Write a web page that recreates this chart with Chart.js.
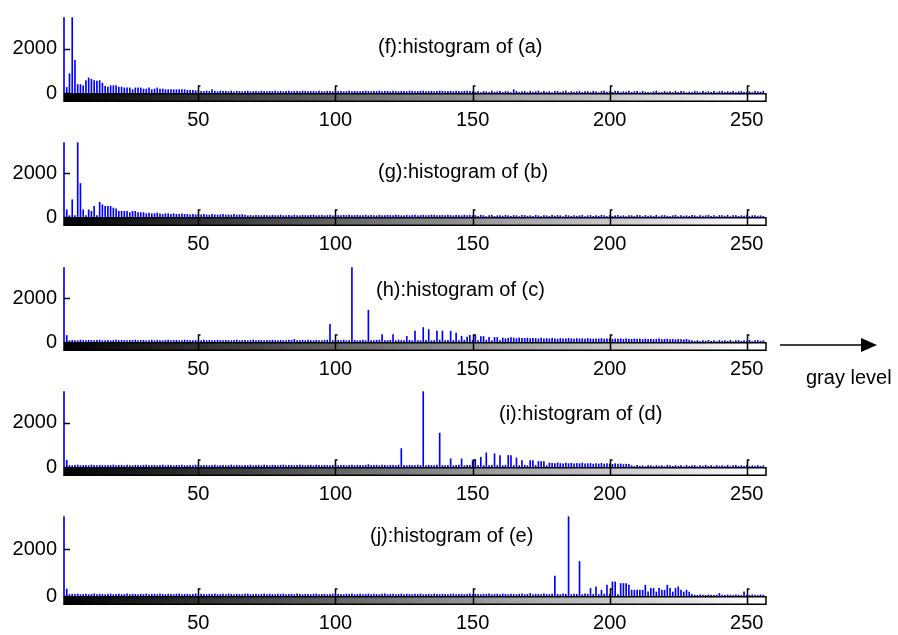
<!DOCTYPE html>
<html>
<head>
<meta charset="utf-8">
<script src="https://cdn.jsdelivr.net/npm/chart.js@4.4.1/dist/chart.umd.min.js"></script>
<style>
  body { margin: 0; background: #fff; width: 898px; height: 635px; overflow: hidden; position: relative; font-family: "Liberation Sans", Arial, sans-serif; }
  canvas { position: absolute; left: 0; }
  .title { position: absolute; font-size: 20px; line-height: 20px; color: #000; white-space: nowrap; }
  svg { position: absolute; }
</style>
</head>
<body>
<script>
// Data: gray levels 1..256 and the counts
const grayLevels = Array.from({ length: 256 }, (_, i) => i + 1);
const xTickValues = [50, 100, 150, 200, 250];
const yTickValues = [0, 2000];
const yMax = 3430;

const titles = ['(f):histogram of (a)', '(g):histogram of (b)', '(h):histogram of (c)', '(i):histogram of (d)', '(j):histogram of (e)'];

const countsA = [
  3400, 250, 870, 3400, 1480, 380, 380, 330, 560, 680, 620, 560, 540, 560, 450, 300,
  270, 330, 330, 330, 270, 270, 230, 230, 230, 150, 230, 230, 230, 180, 180, 230,
  150, 180, 230, 180, 180, 150, 150, 150, 150, 150, 150, 150, 150, 120, 120, 120,
  100, 110, 80, 60, 90, 70, 150, 80, 60, 90, 70, 80, 60, 90, 50, 80,
  70, 60, 80, 90, 60, 70, 80, 60, 90, 70, 60, 80, 70, 90, 60, 80,
  60, 70, 90, 60, 80, 70, 60, 90, 80, 60, 70, 80, 60, 90, 70, 60,
  80, 70, 60, 90, 70, 80, 60, 70, 90, 60, 80, 70, 60, 80, 90, 70,
  60, 80, 70, 90, 60, 70, 80, 60, 90, 70, 60, 80, 70, 60, 90, 80,
  60, 70, 80, 90, 60, 70, 80, 60, 70, 90, 80, 60, 70, 80, 60, 90,
  70, 60, 80, 90, 70, 60, 30, 80, 20, 70, 60, 30, 90, 40, 60, 80,
  30, 70, 60, 20, 150, 80, 30, 60, 70, 20, 80, 40, 60, 90, 30, 70,
  40, 60, 20, 80, 70, 30, 60, 90, 20, 70, 40, 60, 80, 30, 60, 70,
  30, 80, 60, 20, 70, 90, 40, 60, 30, 80, 70, 20, 60, 40, 90, 30,
  60, 70, 20, 80, 40, 30, 20, 60, 90, 20, 30, 70, 40, 60, 20, 80,
  30, 70, 60, 20, 40, 30, 80, 60, 20, 70, 40, 60, 30, 80, 20, 60,
  70, 30, 60, 40, 80, 20, 60, 70, 30, 40, 60, 20, 70, 60, 40, 80
];

const countsB = [
  3400, 330, 60, 790, 60, 3400, 1530, 330, 60, 330, 260, 490, 60, 670, 560, 490,
  490, 490, 410, 370, 260, 260, 260, 260, 200, 260, 260, 200, 200, 200, 150, 180,
  150, 150, 180, 150, 120, 150, 150, 120, 150, 120, 120, 150, 120, 120, 100, 120,
  100, 120, 100, 120, 100, 90, 120, 100, 90, 100, 120, 90, 100, 90, 120, 90,
  100, 110, 90, 60, 70, 60, 80, 70, 60, 80, 70, 60, 80, 70, 60, 90,
  60, 70, 80, 60, 90, 70, 60, 80, 70, 60, 80, 90, 60, 70, 80, 60,
  70, 90, 60, 80, 70, 60, 80, 70, 90, 60, 70, 80, 60, 70, 90, 60,
  80, 70, 60, 90, 70, 60, 80, 70, 60, 90, 80, 60, 70, 80, 60, 70,
  90, 60, 70, 80, 60, 70, 90, 80, 60, 70, 80, 60, 90, 70, 60, 80,
  70, 60, 90, 70, 80, 60, 70, 30, 80, 60, 20, 70, 80, 30, 60, 70,
  40, 80, 60, 30, 70, 60, 20, 80, 70, 40, 60, 30, 80, 60, 20, 70,
  60, 30, 80, 40, 70, 60, 20, 80, 60, 30, 70, 40, 60, 80, 20, 60,
  70, 30, 60, 40, 80, 60, 20, 70, 30, 60, 80, 40, 60, 20, 70, 60,
  30, 80, 60, 20, 70, 40, 60, 30, 80, 20, 60, 70, 40, 30, 60, 80,
  20, 70, 40, 60, 30, 80, 60, 20, 70, 40, 60, 80, 30, 60, 20, 70,
  60, 40, 80, 20, 60, 70, 30, 60, 40, 80, 20, 60, 70, 40, 60, 30
];

const countsC = [
  3400, 300, 60, 80, 70, 60, 90, 70, 60, 80, 70, 60, 80, 90, 60, 70,
  80, 60, 70, 90, 60, 80, 70, 60, 80, 70, 90, 60, 70, 80, 60, 70,
  90, 60, 80, 70, 60, 80, 90, 60, 70, 80, 60, 70, 90, 80, 60, 70,
  80, 60, 70, 90, 60, 80, 70, 60, 90, 70, 60, 80, 70, 60, 80, 90,
  60, 70, 80, 60, 70, 90, 60, 80, 70, 60, 80, 70, 90, 60, 70, 80,
  60, 70, 90, 80, 120, 60, 70, 80, 60, 90, 70, 60, 80, 70, 60, 80,
  90, 810, 70, 60, 80, 70, 90, 60, 70, 3400, 80, 60, 70, 90, 60, 1450,
  70, 60, 80, 90, 340, 60, 70, 80, 340, 60, 90, 70, 60, 260, 80, 60,
  500, 70, 60, 660, 80, 570, 60, 70, 500, 90, 500, 60, 80, 500, 70, 410,
  60, 260, 80, 230, 300, 70, 330, 60, 250, 250, 80, 210, 60, 210, 210, 70,
  180, 150, 170, 200, 180, 150, 190, 170, 160, 180, 150, 170, 160, 140, 180, 150,
  160, 140, 170, 150, 130, 160, 150, 140, 170, 150, 130, 160, 140, 150, 130, 160,
  140, 130, 150, 140, 160, 130, 140, 150, 120, 140, 130, 150, 120, 140, 130, 120,
  140, 120, 130, 110, 140, 120, 130, 110, 120, 140, 110, 120, 130, 110, 120, 100,
  120, 110, 100, 120, 90, 60, 30, 70, 20, 60, 40, 80, 30, 60, 20, 70,
  40, 60, 30, 80, 20, 60, 70, 30, 60, 40, 80, 20, 60, 70, 40, 60
];

const countsD = [
  3400, 300, 70, 60, 80, 90, 60, 70, 80, 60, 90, 70, 60, 80, 70, 60,
  80, 70, 90, 60, 70, 80, 60, 90, 70, 60, 80, 70, 60, 80, 90, 60,
  70, 80, 60, 70, 90, 60, 80, 70, 60, 80, 70, 90, 60, 70, 80, 60,
  90, 70, 60, 80, 70, 60, 80, 90, 60, 70, 80, 60, 70, 90, 60, 80,
  70, 60, 80, 70, 90, 60, 70, 80, 60, 90, 70, 60, 80, 70, 60, 80,
  90, 60, 70, 80, 60, 70, 90, 80, 60, 70, 80, 60, 90, 70, 60, 80,
  70, 60, 80, 90, 60, 70, 80, 60, 70, 90, 60, 80, 70, 60, 80, 110,
  60, 70, 80, 60, 90, 70, 60, 80, 70, 60, 90, 830, 70, 60, 80, 70,
  60, 90, 70, 3400, 60, 80, 70, 60, 90, 1530, 70, 60, 80, 370, 60, 70,
  90, 370, 60, 80, 70, 290, 330, 60, 440, 70, 640, 60, 80, 600, 70, 520,
  60, 80, 520, 520, 70, 410, 60, 290, 80, 60, 290, 290, 70, 250, 250, 250,
  60, 180, 170, 150, 190, 160, 140, 180, 150, 170, 140, 160, 150, 180, 140, 150,
  160, 130, 150, 140, 170, 130, 150, 140, 120, 150, 130, 140, 110, 130, 120, 60,
  30, 70, 40, 60, 20, 80, 60, 30, 70, 40, 60, 20, 80, 60, 30, 70,
  40, 60, 20, 80, 30, 60, 70, 20, 60, 40, 80, 30, 60, 20, 70, 40,
  60, 30, 80, 20, 60, 70, 40, 60, 30, 80, 20, 60, 40, 70, 30, 60
];

const countsE = [
  3400, 300, 60, 80, 70, 90, 60, 70, 80, 60, 70, 90, 60, 80, 70, 60,
  80, 90, 60, 70, 80, 60, 70, 90, 60, 80, 70, 60, 80, 70, 90, 60,
  70, 80, 60, 90, 70, 60, 80, 70, 60, 80, 90, 60, 70, 80, 60, 70,
  90, 60, 80, 70, 60, 80, 70, 90, 60, 70, 80, 60, 90, 70, 60, 80,
  70, 60, 80, 90, 60, 70, 80, 60, 70, 90, 60, 80, 70, 60, 80, 70,
  90, 60, 70, 80, 60, 90, 70, 60, 80, 70, 60, 80, 90, 60, 70, 80,
  60, 70, 90, 60, 80, 70, 60, 80, 70, 90, 60, 70, 80, 60, 70, 90,
  60, 80, 70, 60, 80, 90, 60, 70, 80, 60, 70, 90, 60, 80, 70, 60,
  80, 70, 90, 60, 70, 80, 60, 90, 70, 60, 80, 70, 60, 80, 90, 60,
  70, 80, 60, 70, 90, 60, 80, 70, 60, 80, 70, 90, 60, 70, 80, 60,
  90, 70, 60, 80, 70, 60, 80, 90, 60, 70, 110, 60, 80, 70, 60, 90,
  70, 60, 80, 850, 70, 60, 90, 70, 3400, 60, 80, 70, 1480, 60, 90, 70,
  325, 70, 395, 60, 250, 80, 465, 70, 605, 605, 60, 535, 535, 535, 465, 250,
  250, 250, 250, 250, 465, 180, 325, 325, 170, 325, 250, 250, 465, 325, 170, 325,
  395, 250, 170, 250, 170, 70, 40, 30, 50, 40, 30, 50, 40, 30, 40, 110,
  40, 30, 50, 40, 30, 50, 40, 30, 180, 40, 30, 50, 40, 30, 50, 40
];

const allCounts = [countsA, countsB, countsC, countsD, countsE];

// Layout of the five panels (plot top and zero line, in page pixels)
const plotTops = [17, 142, 267, 391, 516];
const plotZeros = [93, 217, 342, 467, 596];
const titlePos = [[378, 36], [378, 161], [376, 279], [499, 403], [370, 525]];

const FONT = { family: '"Liberation Sans", Arial, sans-serif', size: 20 };
const PAD_TOP = 8;
const AXIS_H = 40;

// gray colorbar under each plot, plus the tick marks
const axisDecor = {
  id: 'axisDecor',
  afterDatasetsDraw(chart) {
    const { ctx, chartArea: a, scales: { x, y } } = chart;
    const zero = y.getPixelForValue(0);
    const g0 = x.getPixelForValue(1), g1 = x.getPixelForValue(256);
    ctx.save();
    const grad = ctx.createLinearGradient(g0, 0, g1, 0);
    grad.addColorStop(0, '#000');
    grad.addColorStop(1, '#fff');
    ctx.fillStyle = grad;
    ctx.fillRect(a.left, zero, a.right - a.left, 8);
    ctx.strokeStyle = '#000';
    ctx.lineWidth = 1.5;
    ctx.strokeRect(a.left, zero + 0.75, a.right - a.left, 7.5);

    x.ticks.forEach(t => {
      const px = Math.round(x.getPixelForValue(t.value)) + 0.5;
      ctx.beginPath();
      ctx.moveTo(px + 2, zero - 7);
      ctx.lineTo(px, zero - 7);
      ctx.lineTo(px, zero + 9);
      ctx.stroke();
    });
    y.ticks.forEach(t => {
      const py = Math.round(y.getPixelForValue(t.value)) + 0.5;
      ctx.beginPath();
      ctx.moveTo(a.left, py);
      ctx.lineTo(a.left + 6, py);
      ctx.stroke();
    });
    ctx.restore();
  }
};

function noPadding(s) {
  s.paddingTop = 0;
  s.paddingBottom = 0;
  s.paddingLeft = 0;
  s.paddingRight = 0;
}

function makePanel(i) {
  const h = plotZeros[i] - plotTops[i];
  const canvas = document.createElement('canvas');
  canvas.width = 898;
  canvas.height = PAD_TOP + h + AXIS_H;
  canvas.style.top = (plotTops[i] - PAD_TOP) + 'px';
  document.body.appendChild(canvas);

  const t = document.createElement('div');
  t.className = 'title';
  t.style.left = titlePos[i][0] + 'px';
  t.style.top = titlePos[i][1] + 'px';
  t.textContent = titles[i];
  document.body.appendChild(t);

  new Chart(canvas, {
    type: 'bar',
    data: {
      datasets: [{
        data: grayLevels.map((g, k) => ({ x: g, y: allCounts[i][k] })),
        backgroundColor: '#0000ff',
        borderWidth: 0,
        barThickness: 1,
        clip: false
      }]
    },
    options: {
      responsive: false,
      animation: false,
      layout: { padding: { top: PAD_TOP, right: 132, left: 0, bottom: 0 } },
      plugins: { legend: { display: false }, tooltip: { enabled: false } },
      scales: {
        x: {
          type: 'linear',
          min: 1,
          max: 257,
          offset: false,
          grid: { display: false, drawTicks: false, offset: false },
          border: { display: false },
          afterBuildTicks: s => { s.ticks = xTickValues.map(v => ({ value: v })); },
          afterFit: s => { s.height = AXIS_H; noPadding(s); },
          ticks: { color: '#000', font: FONT, padding: 15, maxRotation: 0, callback: v => String(v) }
        },
        y: {
          min: 0,
          max: yMax,
          grid: { display: false, drawTicks: false },
          border: { display: false },
          afterBuildTicks: s => { s.ticks = yTickValues.map(v => ({ value: v })); },
          afterFit: s => { s.width = 64; noPadding(s); },
          ticks: { color: '#000', font: FONT, padding: 7, callback: v => String(v) }
        }
      }
    },
    plugins: [axisDecor]
  });
}

for (let i = 0; i < 5; i++) makePanel(i);

// "gray level" arrow beside the third panel
const label = document.createElement('div');
label.className = 'title';
label.style.left = '806px';
label.style.top = '367px';
label.textContent = 'gray level';
document.body.appendChild(label);
</script>
<svg style="left:775px; top:335px;" width="110" height="20">
  <line x1="5" y1="10" x2="88" y2="10" stroke="#000" stroke-width="1.5"/>
  <polygon points="86,3 102,10 86,17" fill="#000"/>
</svg>
</body>
</html>
